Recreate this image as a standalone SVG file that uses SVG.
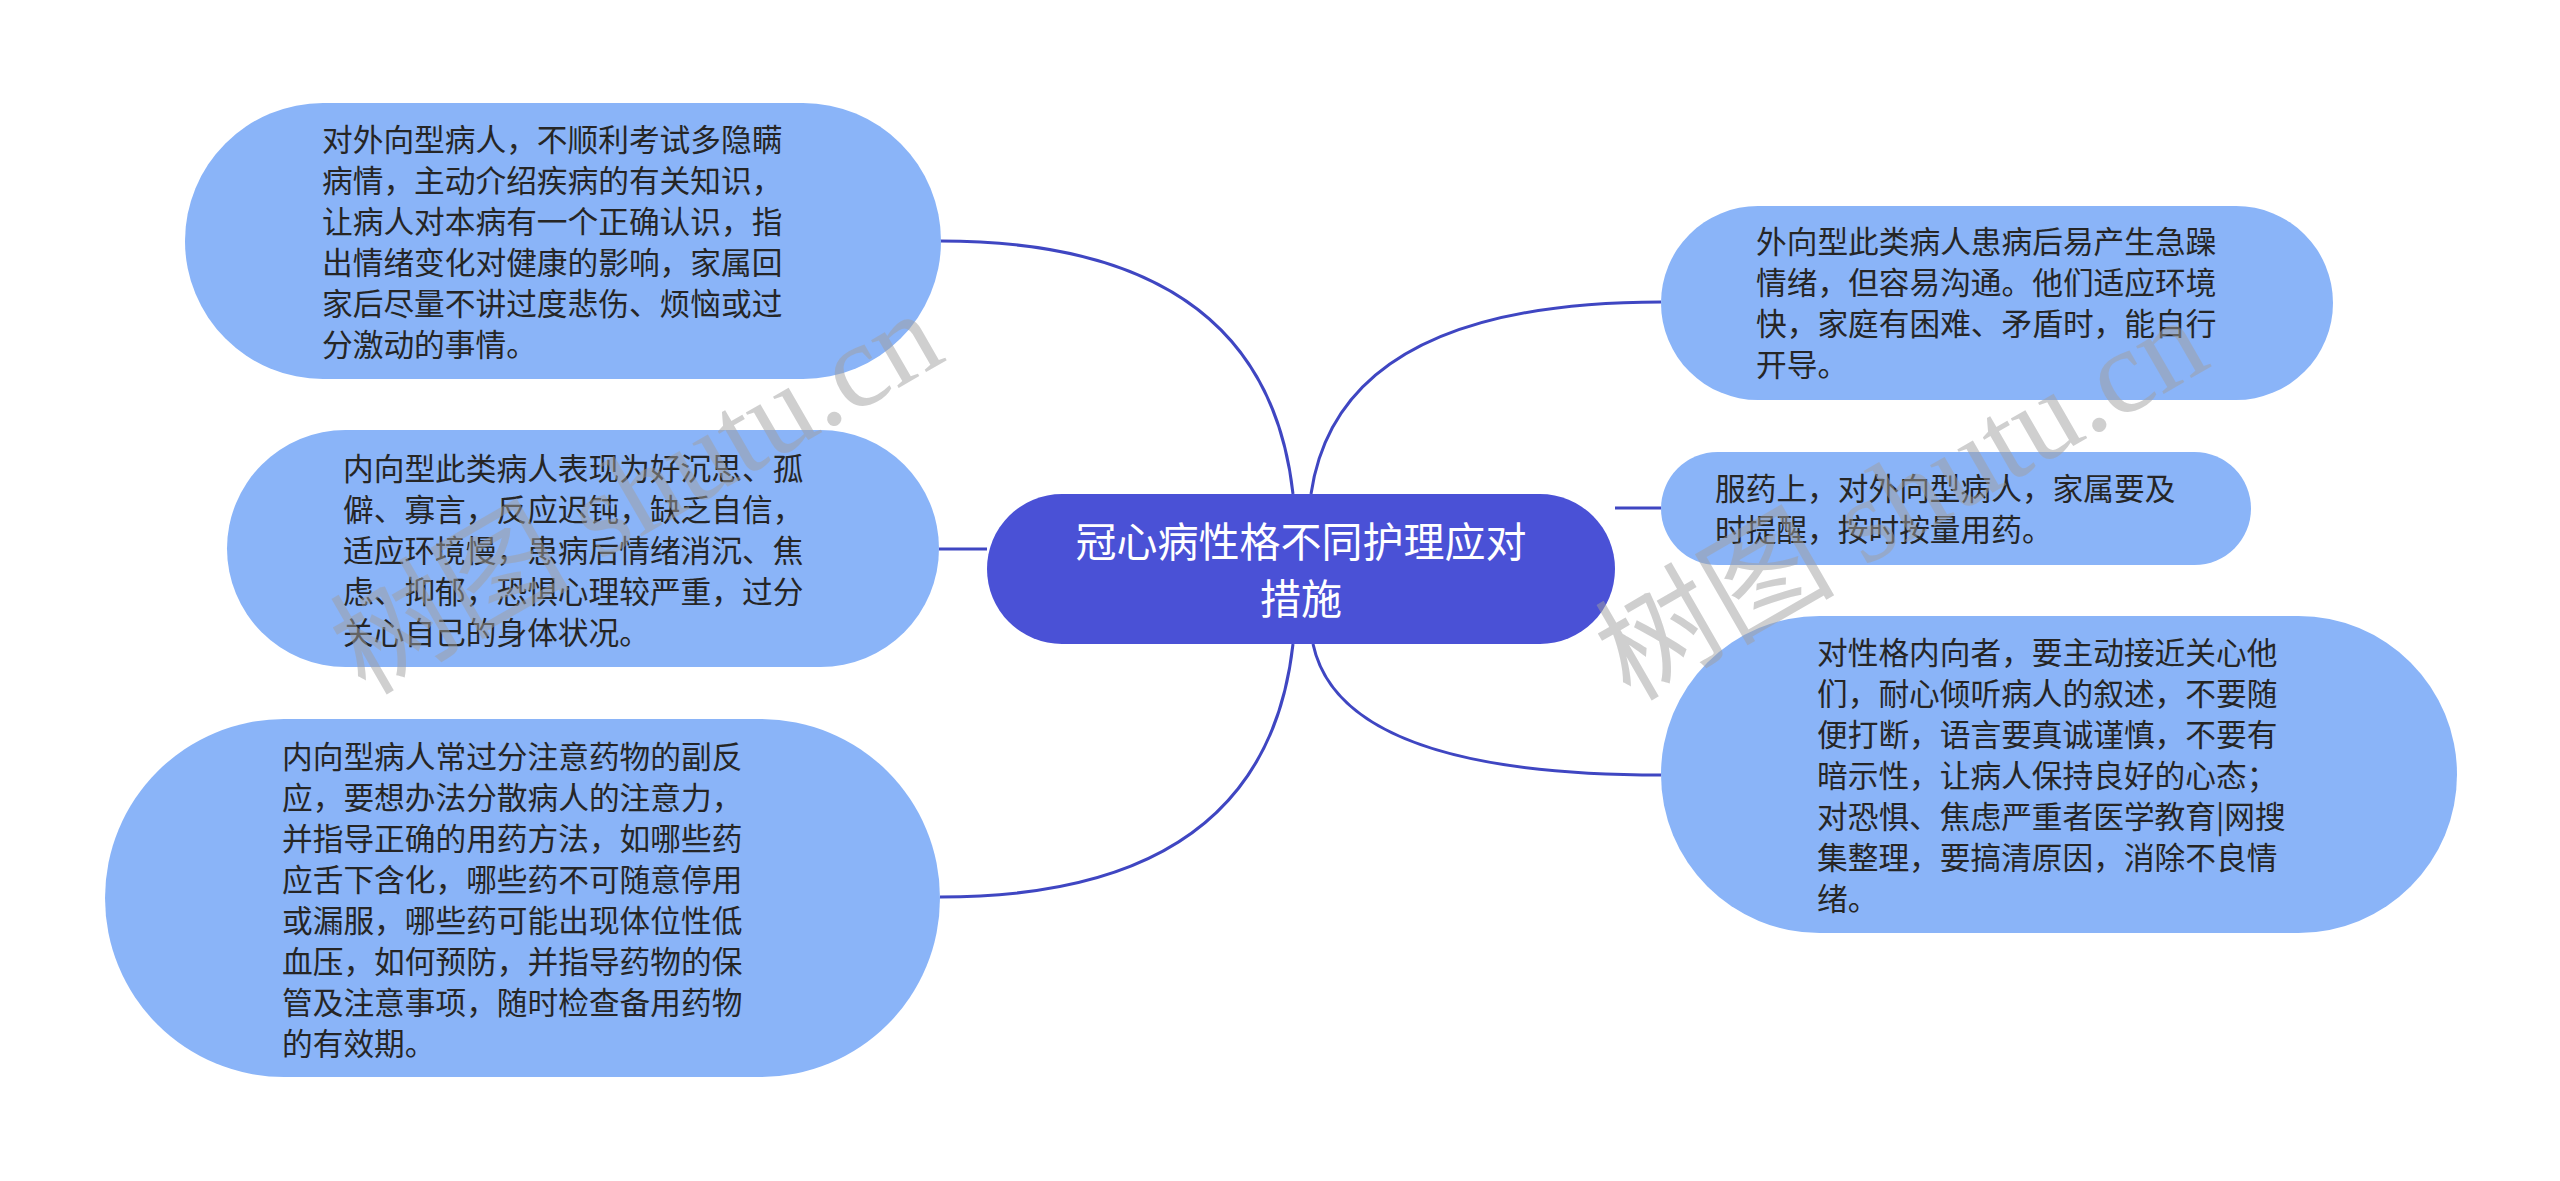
<svg xmlns="http://www.w3.org/2000/svg" width="2560" height="1181" viewBox="0 0 2560 1181">
<style>
.node{fill:#8ab4f8;}
.root{fill:#4a51d6;}
.t{font-family:"Noto Sans CJK SC","Liberation Sans",sans-serif;font-size:30.7px;fill:#262626;}
.rt{font-family:"Noto Sans CJK SC","Liberation Sans",sans-serif;font-size:41px;fill:#ffffff;text-anchor:middle;}
.link{fill:none;stroke:#3f46c2;stroke-width:3;}
.wm{font-family:"Liberation Serif","Noto Sans CJK SC",serif;font-size:120px;fill:#a0a0a0;opacity:0.5;}
</style>
<rect width="2560" height="1181" fill="#ffffff"/>
<g id="connectors">
<path class="link" d="M1293,494 C1279,367.5 1205,241 940,241"/>
<path class="link" d="M987,549 L939,549"/>
<path class="link" d="M1293,644 C1279,770.5 1205,897 940,897"/>
<path class="link" d="M1311,494 C1325,398 1398,302 1661,302"/>
<path class="link" d="M1615,508 L1661,508"/>
<path class="link" d="M1313,644 C1327,709.5 1400,775 1661,775"/>
</g>
<g id="root">
<rect class="root" x="987" y="494" width="628" height="150" rx="75" ry="75"/>
<text class="rt"><tspan x="1301" y="557">冠心病性格不同护理应对</tspan><tspan x="1301" y="614">措施</tspan></text>
</g>
<g id="node-a">
<rect class="node" x="185" y="103" width="756" height="276" rx="138" ry="138"/>
<text class="t"><tspan x="322" y="151.2">对外向型病人，不顺利考试多隐瞒</tspan><tspan x="322" dy="41">病情，主动介绍疾病的有关知识，</tspan><tspan x="322" dy="41">让病人对本病有一个正确认识，指</tspan><tspan x="322" dy="41">出情绪变化对健康的影响，家属回</tspan><tspan x="322" dy="41">家后尽量不讲过度悲伤、烦恼或过</tspan><tspan x="322" dy="41">分激动的事情。</tspan></text>
</g>
<g id="node-b">
<rect class="node" x="227" y="430" width="712" height="237" rx="118.5" ry="118.5"/>
<text class="t"><tspan x="343" y="480.2">内向型此类病人表现为好沉思、孤</tspan><tspan x="343" dy="41">僻、寡言，反应迟钝，缺乏自信，</tspan><tspan x="343" dy="41">适应环境慢，患病后情绪消沉、焦</tspan><tspan x="343" dy="41">虑、抑郁，恐惧心理较严重，过分</tspan><tspan x="343" dy="41">关心自己的身体状况。</tspan></text>
</g>
<g id="node-c">
<rect class="node" x="105" y="719" width="835" height="358" rx="179" ry="179"/>
<text class="t"><tspan x="282" y="767.7">内向型病人常过分注意药物的副反</tspan><tspan x="282" dy="41">应，要想办法分散病人的注意力，</tspan><tspan x="282" dy="41">并指导正确的用药方法，如哪些药</tspan><tspan x="282" dy="41">应舌下含化，哪些药不可随意停用</tspan><tspan x="282" dy="41">或漏服，哪些药可能出现体位性低</tspan><tspan x="282" dy="41">血压，如何预防，并指导药物的保</tspan><tspan x="282" dy="41">管及注意事项，随时检查备用药物</tspan><tspan x="282" dy="41">的有效期。</tspan></text>
</g>
<g id="node-d">
<rect class="node" x="1661" y="206" width="672" height="194" rx="97" ry="97"/>
<text class="t"><tspan x="1756" y="252.7">外向型此类病人患病后易产生急躁</tspan><tspan x="1756" dy="41">情绪，但容易沟通。他们适应环境</tspan><tspan x="1756" dy="41">快，家庭有困难、矛盾时，能自行</tspan><tspan x="1756" dy="41">开导。</tspan></text>
</g>
<g id="node-e">
<rect class="node" x="1661" y="452" width="590" height="113" rx="56.5" ry="56.5"/>
<text class="t"><tspan x="1715" y="500.2">服药上，对外向型病人，家属要及</tspan><tspan x="1715" dy="41">时提醒，按时按量用药。</tspan></text>
</g>
<g id="node-f">
<rect class="node" x="1661" y="616" width="796" height="317" rx="158.5" ry="158.5"/>
<text class="t"><tspan x="1817" y="664.2">对性格内向者，要主动接近关心他</tspan><tspan x="1817" dy="41">们，耐心倾听病人的叙述，不要随</tspan><tspan x="1817" dy="41">便打断，语言要真诚谨慎，不要有</tspan><tspan x="1817" dy="41">暗示性，让病人保持良好的心态；</tspan><tspan x="1817" dy="41">对恐惧、焦虑严重者医学教育|网搜</tspan><tspan x="1817" dy="41">集整理，要搞清原因，消除不良情</tspan><tspan x="1817" dy="41">绪。</tspan></text>
</g>
<g id="watermarks">
<text class="wm" transform="translate(365,696) rotate(-30)">树图 shutu.cn</text>
<text class="wm" transform="translate(1630,702) rotate(-30)">树图 shutu.cn</text>
</g>
</svg>
